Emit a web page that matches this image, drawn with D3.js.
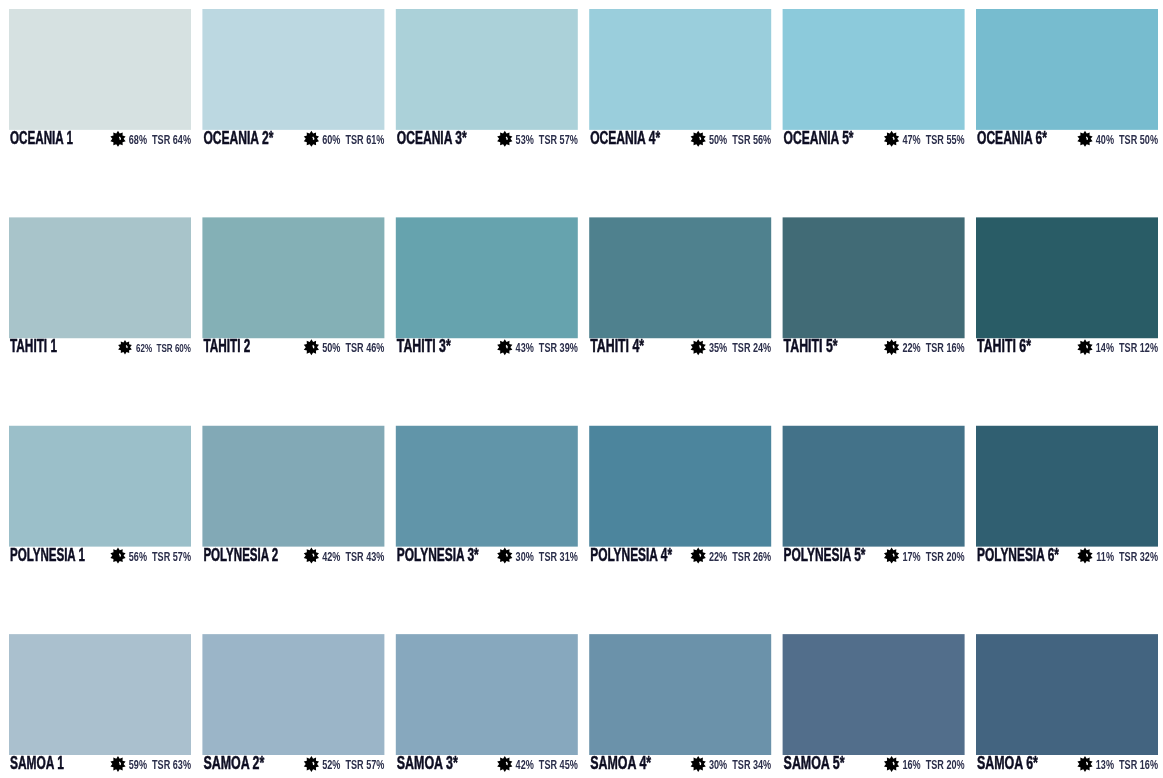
<!DOCTYPE html>
<html>
<head>
<meta charset="utf-8">
<script src="https://cdn.jsdelivr.net/npm/d3@7"></script>
<style>
  html, body { margin: 0; padding: 0; background: #fff; }
  svg { display: block; }
  text { font-family: "Liberation Sans", sans-serif; white-space: pre; }
</style>
</head>
<body>
<div id="chart"></div>
<script>
var families = ['OCEANIA', 'TAHITI', 'POLYNESIA', 'SAMOA'];
var shades = [1, 2, 3, 4, 5, 6];

// shades that carry an asterisk in the card
var oceaniaStar = [0, 1, 1, 1, 1, 1];
var tahitiStar = [0, 0, 1, 1, 1, 1];
var polynesiaStar = [0, 0, 1, 1, 1, 1];
var samoaStar = [0, 1, 1, 1, 1, 1];

var oceaniaColors = ['#d6e1e1', '#bcd8e1', '#abd1d9', '#9acedc', '#8ccadb', '#77bccf'];
var tahitiColors = ['#a8c4ca', '#84b0b6', '#66a3ae', '#4f818e', '#416b76', '#295c66'];
var polynesiaColors = ['#9bbfc9', '#82a9b6', '#6195a9', '#4c859d', '#437289', '#305f71'];
var samoaColors = ['#aac0ce', '#9bb5c8', '#87a8be', '#6b92aa', '#526e8b', '#436480'];

// light reflectance (sun icon) and TSR percentages
var oceaniaLrv = [68, 60, 53, 50, 47, 40];
var oceaniaTsr = [64, 61, 57, 56, 55, 50];
var tahitiLrv = [62, 50, 43, 35, 22, 14];
var tahitiTsr = [60, 46, 39, 24, 16, 12];
var polynesiaLrv = [56, 42, 30, 22, 17, 11];
var polynesiaTsr = [57, 43, 31, 26, 20, 32];
var samoaLrv = [59, 52, 42, 30, 16, 13];
var samoaTsr = [63, 57, 45, 34, 20, 16];

var width = 1163, height = 778;

var cards = [];
[
  [oceaniaColors, oceaniaLrv, oceaniaTsr, oceaniaStar],
  [tahitiColors, tahitiLrv, tahitiTsr, tahitiStar],
  [polynesiaColors, polynesiaLrv, polynesiaTsr, polynesiaStar],
  [samoaColors, samoaLrv, samoaTsr, samoaStar]
].forEach(function(r, i) {
  shades.forEach(function(s, j) {
    cards.push({
      family: families[i], shade: s, color: r[0][j],
      lrv: r[1][j], tsr: r[2][j], star: r[3][j]
    });
  });
});

var x = d3.scaleBand().domain(shades).range([9, 1158]).paddingInner(0.059);
var y = d3.scaleBand().domain(families).range([9, 755]).paddingInner(0.42);

// printed width of each family's name, without the asterisk
var nameWidth = d3.scaleOrdinal().domain(families).range([63, 47, 75, 54]);

var svg = d3.select('#chart').append('svg')
  .attr('width', width)
  .attr('height', height);

// the scan is soft, so soften the small print a little too
svg.append('filter').attr('id', 'soft')
  .append('feGaussianBlur').attr('stdDeviation', 0.45);

var card = svg.selectAll('g.card')
  .data(cards)
  .join('g')
  .attr('class', 'card')
  .attr('transform', function(d) {
    return 'translate(' + x(d.shade) + ',' + y(d.family) + ')';
  });

card.append('rect')
  .attr('width', x.bandwidth())
  .attr('height', y.bandwidth())
  .attr('fill', function(d) { return d.color; });

var label = card.append('g')
  .attr('filter', 'url(#soft)')
  .attr('transform', 'translate(0,' + (y.bandwidth() + 14) + ')');

// no narrow face to hand, so squeeze the bold one to the printed width
label.append('text')
  .attr('font-size', 18)
  .attr('font-weight', 700)
  .attr('fill', '#0a0a20')
  .attr('stroke', '#0a0a20')
  .attr('stroke-width', 0.45)
  .text(function(d) { return d.family + ' ' + d.shade + (d.star ? '*' : ''); })
  .attr('transform', function(d) {
    var k = (nameWidth(d.family) + (d.star ? 7 : 0)) / this.getComputedTextLength();
    return 'translate(1,0) scale(' + k + ',1)';
  });

// TAHITI 1 is printed a bit smaller than the rest in the card
function isSmall(d) { return d.family == 'TAHITI' && d.shade == 1; }

label.append('text')
  .attr('text-anchor', 'end')
  .attr('font-size', function(d) { return isSmall(d) ? 11.5 : 13; })
  .attr('font-weight', 700)
  .attr('fill', '#2a2d4a')
  .attr('transform', 'translate(' + x.bandwidth() + ',0) scale(0.7,1)')
  .text(function(d) { return d.lrv + '%  TSR ' + d.tsr + '%'; });

// sun icon: spiky disc with a white highlight
var sun = d3.lineRadial().curve(d3.curveLinearClosed);
var sunPoints = d3.range(20).map(function(i) {
  return [i * Math.PI / 10, i % 2 ? 5.6 : 8];
});

var icon = label.append('g')
  .attr('transform', function(d) {
    return 'translate(' + (x.bandwidth() - (isSmall(d) ? 66 : 73)) + ',-5) scale(' + (isSmall(d) ? 0.9 : 1) + ')';
  });
icon.append('path').attr('d', sun(sunPoints)).attr('fill', '#050505');
icon.append('path')
  .attr('d', d3.arc()({ innerRadius: 1.6, outerRadius: 3, startAngle: 0.6, endAngle: 2 }))
  .attr('fill', '#fff');
</script>
</body>
</html>
